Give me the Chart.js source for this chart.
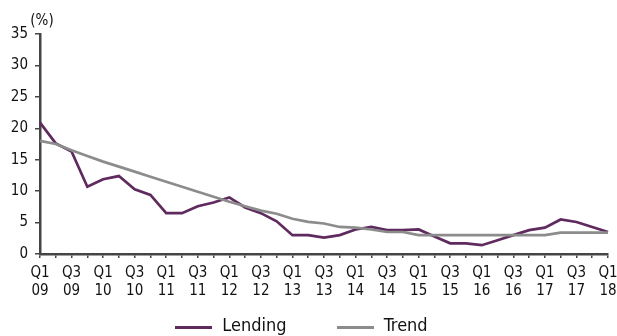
<!DOCTYPE html>
<html>
<head>
<meta charset="utf-8">
<script src="https://cdn.jsdelivr.net/npm/chart.js@4/dist/chart.umd.min.js"></script>
<style>
  html, body { margin: 0; padding: 0; background: #ffffff; }
  #wrap { position: relative; width: 617px; height: 336px; }
  #chart { display: block; }
  #legend {
    position: absolute; left: 0; top: 309px; width: 617px; height: 30px;
    box-sizing: border-box; padding-right: 14px;
    display: flex; justify-content: center; align-items: center;
    font-family: 'Liberation Sans Narrow', 'DejaVu Sans Condensed', 'Arial Narrow', sans-serif;
    font-size: 18px; color: #111;
  }
  #legend .item { display: flex; align-items: center; margin: 0 25px; }
  #legend .swatch { width: 37px; height: 3px; margin-right: 10px; position: relative; top: 3px; }
</style>
</head>
<body>
<div id="wrap">
  <canvas id="chart" width="617" height="336"></canvas>
  <div id="legend"></div>
</div>
<script>
// Quarterly periods, Q1 2009 to Q1 2018
const periods = [
  "Q1 09","Q2 09","Q3 09","Q4 09",
  "Q1 10","Q2 10","Q3 10","Q4 10",
  "Q1 11","Q2 11","Q3 11","Q4 11",
  "Q1 12","Q2 12","Q3 12","Q4 12",
  "Q1 13","Q2 13","Q3 13","Q4 13",
  "Q1 14","Q2 14","Q3 14","Q4 14",
  "Q1 15","Q2 15","Q3 15","Q4 15",
  "Q1 16","Q2 16","Q3 16","Q4 16",
  "Q1 17","Q2 17","Q3 17","Q4 17",
  "Q1 18"
];

// Lending growth, %
const lending = [
  20.9, 17.6, 16.3, 10.7,
  11.9, 12.4, 10.3, 9.4,
  6.5, 6.5, 7.6, 8.2,
  9.0, 7.4, 6.5, 5.2,
  3.0, 3.0, 2.6, 3.0,
  3.9, 4.3, 3.8, 3.8,
  3.9, 2.8, 1.7, 1.7,
  1.4, 2.2, 3.0, 3.8,
  4.2, 5.5, 5.1, 4.3,
  3.5
];

// Trend, %
const trend = [
  18.0, 17.5, 16.5, 15.6,
  14.7, 13.9, 13.1, 12.3,
  11.5, 10.7, 9.9, 9.1,
  8.3, 7.6, 6.9, 6.4,
  5.6, 5.1, 4.85, 4.3,
  4.2, 3.9, 3.5, 3.5,
  3.0, 3.0, 3.0, 3.0,
  3.0, 3.0, 3.0, 3.0,
  3.0, 3.4, 3.4, 3.4,
  3.4
];

// Y axis range and step
const yTicks = { min: 0, max: 35, step: 5 };
const unitLabel = "(%)";

const FONT = "'Liberation Sans Narrow', 'DejaVu Sans Condensed', 'Arial Narrow', sans-serif";
const AXIS = '#454545';
const PURPLE = '#5f2a5d';
const GREY = '#8c8c8c';

// Unit label above the value axis
const unitPlugin = {
  id: 'unitLabel',
  afterDraw(chart) {
    const { ctx } = chart;
    const yScale = chart.scales.y;
    ctx.save();
    ctx.font = '15px ' + FONT;
    ctx.fillStyle = '#111';
    ctx.textAlign = 'center';
    ctx.textBaseline = 'middle';
    ctx.fillText(unitLabel, yScale.right + 2, chart.chartArea.top - 13);
    ctx.restore();
  }
};

// HTML legend built from the chart's own legend items
const htmlLegendPlugin = {
  id: 'htmlLegend',
  afterUpdate(chart) {
    const box = document.getElementById('legend');
    box.innerHTML = '';
    const items = chart.options.plugins.legend.labels.generateLabels(chart)
      .sort((a, b) => a.datasetIndex - b.datasetIndex);
    items.forEach(it => {
      const item = document.createElement('div');
      item.className = 'item';
      const sw = document.createElement('span');
      sw.className = 'swatch';
      sw.style.background = it.strokeStyle;
      const tx = document.createElement('span');
      tx.textContent = it.text;
      item.appendChild(sw);
      item.appendChild(tx);
      box.appendChild(item);
    });
  }
};

new Chart(document.getElementById('chart'), {
  type: 'line',
  data: {
    labels: periods,
    datasets: [
      {
        label: 'Lending',
        data: lending,
        borderColor: PURPLE,
        backgroundColor: PURPLE,
        borderWidth: 2.7,
        pointRadius: 0,
        tension: 0,
        order: 2
      },
      {
        label: 'Trend',
        data: trend,
        borderColor: GREY,
        backgroundColor: GREY,
        borderWidth: 2.7,
        pointRadius: 0,
        tension: 0,
        order: 1
      }
    ]
  },
  options: {
    responsive: false,
    devicePixelRatio: 1,
    animation: false,
    layout: { padding: { top: 34, right: 9, left: 0, bottom: 31 } },
    plugins: {
      tooltip: { enabled: false },
      legend: { display: false }
    },
    scales: {
      x: {
        type: 'category',
        offset: false,
        afterFit(scale) {
          scale.height = 51;
          scale.paddingLeft = 0;
          scale.paddingRight = 0;
        },
        border: { display: true, color: AXIS, width: 2.5 },
        grid: {
          display: true,
          drawOnChartArea: false,
          drawTicks: true,
          tickLength: 4,
          color: AXIS,
          lineWidth: 1.5
        },
        ticks: {
          autoSkip: false,
          maxRotation: 0,
          minRotation: 0,
          padding: 6,
          color: '#111',
          font: { family: FONT, size: 15, lineHeight: 1.2 },
          callback(value, index) {
            if (index % 2 !== 0) return '';
            return periods[index].split(' ');
          }
        }
      },
      y: {
        min: yTicks.min,
        max: yTicks.max,
        afterFit(scale) { scale.width = 40; },
        border: { display: true, color: AXIS, width: 2.5 },
        grid: {
          display: true,
          drawOnChartArea: false,
          drawTicks: true,
          tickLength: 5,
          color: AXIS,
          lineWidth: 1.5
        },
        ticks: {
          stepSize: yTicks.step,
          padding: 7,
          color: '#111',
          font: { family: FONT, size: 15 }
        }
      }
    }
  },
  plugins: [unitPlugin, htmlLegendPlugin]
});
</script>
</body>
</html>
